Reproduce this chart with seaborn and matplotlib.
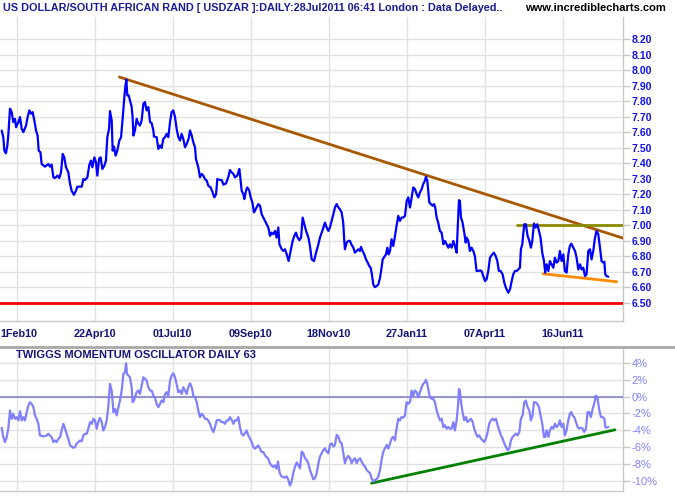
import matplotlib
matplotlib.use("Agg")
import matplotlib.pyplot as plt
from matplotlib.lines import Line2D
from matplotlib.transforms import offset_copy
import seaborn as sns
import pandas as pd

# ---------------- data (trading-day index) ----------------
price_day = [0.4, 1.4, 2.1, 3.1, 4.0, 4.6, 5.7, 6.8, 7.8, 8.9, 9.6, 11.1, 12.1, 13.2, 14.3, 16.0, 17.0, 18.1,
             19.2, 20.2, 21.3, 22.4, 23.4, 24.1, 25.2, 26.0, 28.1, 30.3, 31.3, 32.4, 33.5, 34.6, 36.1, 37.3,
             38.4, 39.5, 40.5, 41.6, 43.1, 44.2, 45.2, 46.7, 48.0, 48.9, 51.7, 52.7, 53.8, 55.3, 56.6, 57.6,
             58.5, 59.8, 60.8, 61.7, 62.8, 63.8, 64.9, 66.2, 67.2, 68.1, 69.2, 69.8, 70.9, 71.5, 72.4, 73.4,
             74.5, 75.8, 76.9, 78.0, 79.0, 79.6, 80.3, 80.9, 81.8, 82.6, 83.7, 84.3, 84.8, 85.8, 86.9, 88.0,
             89.0, 90.1, 91.2, 92.2, 93.3, 94.4, 95.5, 96.5, 97.6, 98.0, 99.7, 100.8, 101.9, 102.9, 104.0,
             105.1, 106.1, 107.2, 108.3, 109.3, 110.4, 111.5, 112.5, 113.6, 114.7, 115.7, 116.8, 117.9,
             119.0, 120.2, 121.1, 122.2, 123.2, 124.3, 124.9, 126.4, 127.5, 128.6, 129.6, 130.7, 131.8,
             132.8, 134.3, 135.6, 136.7, 137.8, 138.6, 140.3, 141.4, 142.5, 144.2, 145.7, 146.7, 147.8,
             148.9, 149.9, 151.4, 152.7, 153.1, 154.2, 155.3, 155.9, 157.0, 157.8, 159.1, 160.0, 161.1,
             162.1, 163.2, 164.9, 166.0, 167.0, 168.1, 169.2, 170.2, 171.3, 172.4, 173.4, 174.5, 175.6,
             176.6, 177.7, 178.4, 179.9, 180.9, 182.0, 183.1, 184.3, 185.6, 186.9, 188.0, 189.0, 190.1,
             191.2, 192.3, 193.3, 194.4, 195.5, 197.0, 198.0, 199.1, 200.6, 201.9, 203.4, 204.4, 205.9,
             207.6, 208.7, 209.8, 210.8, 211.9, 213.0, 214.0, 215.1, 216.2, 217.2, 218.3, 219.3, 220.0,
             220.4, 221.5, 222.6, 223.6, 224.7, 225.8, 226.8, 227.9, 229.0, 230.0, 230.7, 231.7, 232.8,
             233.9, 235.0, 236.0, 236.9, 237.7, 238.6, 239.6, 240.7, 241.8, 242.9, 243.9, 244.6, 245.6,
             246.7, 247.6, 248.4, 249.3, 250.3, 251.4, 252.5, 253.5, 254.6, 255.7, 256.7, 257.8, 258.9,
             260.0, 261.0, 262.1, 263.2, 264.2, 265.3, 266.4, 267.4, 268.5, 269.6, 270.6, 271.7, 272.3,
             273.2, 273.8, 274.5, 275.5, 276.6, 277.5, 278.3, 279.2, 280.2, 281.3, 282.4, 283.5, 284.5,
             285.6, 286.7, 287.7, 288.8, 289.9, 290.9, 292.0, 292.9, 293.5, 294.1, 294.8, 295.8, 296.9,
             297.8, 298.4, 299.5, 300.5, 301.6, 302.7, 303.7, 304.8, 305.9, 307.0, 308.0, 309.1, 310.2,
             311.2, 312.3, 313.4, 314.9, 315.9, 317.0, 318.1, 319.1, 320.2, 321.5, 322.6, 323.6, 325.1,
             326.2, 327.3, 328.3, 329.4, 330.5, 331.5, 332.6, 333.2, 334.1, 334.7, 335.4, 336.4, 337.5,
             338.6, 339.6, 340.5, 341.6, 342.6, 343.7, 344.8, 345.8, 346.9, 348.0, 348.8, 349.7, 350.8,
             351.8, 352.9, 354.0, 355.0, 356.1, 357.2, 358.2, 359.3, 360.4, 361.4, 362.5, 363.6, 364.6,
             365.5, 366.8, 367.9, 368.9, 370.0, 371.1, 372.1, 373.2, 374.3, 375.3, 376.4, 377.5, 378.5,
             379.6, 380.7, 381.7, 382.8, 383.9, 384.9, 386.0, 386.7, 387.3, 388.2, 389.2]
price_val = [7.61, 7.568, 7.481, 7.464, 7.514, 7.578, 7.751, 7.729, 7.665, 7.686, 7.632, 7.665, 7.697, 7.622,
             7.600, 7.643, 7.697, 7.740, 7.719, 7.729, 7.675, 7.611, 7.578, 7.481, 7.471, 7.395, 7.378, 7.395,
             7.378, 7.391, 7.309, 7.305, 7.320, 7.305, 7.341, 7.460, 7.438, 7.374, 7.341, 7.266, 7.223, 7.197,
             7.223, 7.249, 7.249, 7.298, 7.292, 7.309, 7.391, 7.417, 7.374, 7.438, 7.406, 7.320, 7.428, 7.438,
             7.363, 7.384, 7.417, 7.568, 7.622, 7.736, 7.675, 7.481, 7.507, 7.449, 7.481, 7.546, 7.568, 7.697,
             7.826, 7.891, 7.938, 7.837, 7.837, 7.805, 7.762, 7.697, 7.578, 7.611, 7.686, 7.654, 7.643, 7.675,
             7.783, 7.794, 7.740, 7.762, 7.665, 7.658, 7.611, 7.572, 7.568, 7.492, 7.514, 7.499, 7.557, 7.568,
             7.589, 7.568, 7.665, 7.729, 7.740, 7.697, 7.622, 7.568, 7.546, 7.589, 7.557, 7.503, 7.525, 7.557,
             7.611, 7.578, 7.535, 7.503, 7.428, 7.374, 7.309, 7.331, 7.320, 7.298, 7.288, 7.255, 7.244, 7.212,
             7.180, 7.201, 7.298, 7.292, 7.292, 7.262, 7.270, 7.313, 7.356, 7.341, 7.331, 7.309, 7.320, 7.363,
             7.331, 7.223, 7.201, 7.169, 7.223, 7.244, 7.223, 7.180, 7.147, 7.083, 7.104, 7.137, 7.126, 7.072,
             7.050, 7.029, 7.007, 6.986, 6.932, 6.953, 6.943, 6.964, 6.921, 6.986, 6.878, 6.846, 6.835, 6.846,
             6.813, 6.770, 6.835, 6.900, 6.932, 6.953, 6.921, 6.904, 6.921, 7.050, 7.007, 6.964, 6.921, 6.867,
             6.781, 6.770, 6.824, 6.878, 6.921, 6.964, 7.018, 6.986, 6.964, 6.986, 7.029, 7.072, 7.115, 7.137,
             7.115, 7.104, 7.083, 7.018, 6.900, 6.846, 6.889, 6.900, 6.900, 6.874, 6.856, 6.824, 6.835, 6.846,
             6.835, 6.861, 6.835, 6.813, 6.781, 6.760, 6.738, 6.727, 6.684, 6.619, 6.602, 6.609, 6.619, 6.662,
             6.727, 6.781, 6.796, 6.813, 6.856, 6.813, 6.835, 6.910, 6.867, 6.932, 6.997, 7.061, 7.029, 7.050,
             7.050, 7.061, 7.158, 7.180, 7.115, 7.180, 7.244, 7.234, 7.201, 7.180, 7.212, 7.234, 7.266, 7.288,
             7.313, 7.288, 7.223, 7.147, 7.137, 7.126, 7.137, 7.115, 7.050, 7.018, 6.964, 6.953, 6.878, 6.900,
             6.878, 6.856, 6.878, 6.856, 6.900, 6.867, 6.824, 7.018, 7.162, 7.158, 7.050, 7.018, 6.953, 6.889,
             6.921, 6.900, 6.835, 6.856, 6.835, 6.803, 6.706, 6.706, 6.710, 6.706, 6.673, 6.641, 6.652, 6.706,
             6.792, 6.813, 6.824, 6.803, 6.770, 6.706, 6.706, 6.684, 6.630, 6.598, 6.566, 6.587, 6.641, 6.684,
             6.706, 6.706, 6.716, 6.727, 6.846, 6.878, 6.943, 7.007, 7.007, 6.932, 6.900, 6.856, 6.900, 7.012,
             6.986, 7.007, 6.964, 6.921, 6.824, 6.770, 6.695, 6.749, 6.706, 6.770, 6.749, 6.727, 6.792, 6.760,
             6.770, 6.835, 6.770, 6.813, 6.706, 6.695, 6.813, 6.867, 6.882, 6.856, 6.835, 6.792, 6.716, 6.749,
             6.716, 6.727, 6.673, 6.684, 6.835, 6.846, 6.781, 6.835, 6.921, 6.964, 6.943, 6.856, 6.770, 6.760,
             6.766, 6.684, 6.673, 6.669]

osc_day = [0.4, 1.4, 2.5, 3.6, 4.6, 5.7, 6.8, 7.8, 8.9, 10.0, 11.1, 12.1, 13.2, 14.3, 15.3, 16.4, 17.5, 18.5,
           19.6, 20.7, 21.7, 22.8, 23.9, 24.9, 27.1, 29.2, 30.3, 31.3, 32.4, 33.5, 34.6, 35.6, 36.7, 37.8,
           38.8, 39.9, 41.0, 42.0, 43.1, 44.2, 45.2, 46.3, 47.4, 48.4, 49.5, 50.6, 51.7, 52.7, 53.8, 54.9,
           55.9, 57.0, 58.1, 59.1, 60.2, 61.3, 62.3, 63.4, 64.5, 65.5, 66.6, 67.7, 68.7, 69.8, 70.9, 72.0,
           73.0, 74.1, 75.2, 76.2, 77.3, 78.4, 79.4, 80.1, 80.7, 81.6, 82.6, 83.7, 84.3, 85.2, 85.8, 86.9,
           88.0, 89.0, 90.1, 91.2, 92.2, 93.3, 94.4, 95.5, 96.5, 97.6, 98.7, 99.7, 100.8, 101.9, 102.9,
           104.0, 105.1, 106.1, 107.2, 108.3, 109.3, 110.4, 111.5, 112.5, 113.6, 114.7, 115.8, 116.8,
           117.9, 119.0, 120.0, 121.1, 122.2, 123.2, 124.3, 125.4, 126.4, 127.5, 128.6, 129.6, 130.7,
           131.8, 132.8, 133.9, 135.0, 136.1, 137.1, 138.2, 139.3, 140.3, 141.4, 142.5, 143.5, 144.6,
           145.7, 146.7, 147.8, 148.9, 149.9, 151.0, 152.1, 153.1, 154.2, 155.3, 156.4, 157.4, 158.5,
           159.6, 160.6, 161.7, 162.8, 163.8, 164.9, 166.0, 167.0, 168.1, 169.2, 170.2, 171.3, 172.4,
           173.4, 174.5, 175.6, 176.6, 177.5, 178.6, 179.7, 181.9, 183.0, 184.1, 185.2, 186.3, 187.3,
           188.4, 189.5, 190.5, 191.6, 192.7,
           193.7, 194.8, 195.9, 196.9, 198.0, 199.1, 200.1, 201.2, 202.3, 203.4, 204.4, 205.5, 206.6,
           207.6, 208.7, 209.8, 210.8, 211.9, 213.0, 214.0, 215.1, 216.2, 217.2, 218.3, 219.4, 220.4,
           221.5, 222.6, 223.7, 224.7, 225.8, 226.9, 227.9, 229.0, 230.1, 231.1, 232.2, 233.3, 234.3,
           235.4, 236.5, 237.5, 238.6, 239.7, 240.7, 241.8, 242.9, 243.9, 245.0, 246.1, 247.2, 248.2,
           249.3, 250.3, 251.4, 252.5, 253.5, 254.6, 255.7, 256.7, 257.8, 258.9, 259.9, 261.0, 262.1,
           263.2, 264.2, 265.3, 266.4, 267.4, 268.5, 269.6, 270.6, 271.7, 272.3, 273.2, 274.0, 274.9,
           276.0, 277.0, 278.1, 279.2, 280.2, 281.3, 282.4, 283.5, 284.5, 285.6, 286.7, 287.7, 288.8,
           289.9, 290.9, 292.0, 292.9, 293.5, 294.1, 294.8, 295.8, 296.9, 298.0, 299.0, 300.1, 301.2,
           302.3, 303.3, 304.4, 305.5, 306.5, 307.6, 308.7, 309.7, 310.8, 311.9, 312.9, 314.0, 315.1,
           316.1, 317.2, 318.3, 319.3, 320.4, 321.5, 322.6, 323.6, 324.7, 325.8, 326.8, 327.9, 329.0,
           330.0, 331.1, 332.2, 333.2, 334.3, 335.4, 336.4, 337.5, 338.6, 339.6, 340.7, 341.6, 342.6,
           343.7, 344.8, 345.8, 346.9, 348.0, 348.8, 349.7, 350.8, 351.8, 352.9, 354.0, 355.0, 356.1,
           357.2, 358.2, 359.3, 360.4, 361.4, 362.5, 363.6, 364.6, 365.5, 366.4, 367.4, 368.5, 369.6,
           370.6, 371.7, 372.8, 373.8, 374.9, 376.0, 377.0, 378.1, 379.2, 380.2, 381.3, 382.4, 383.5,
           384.5, 385.6, 386.7, 387.3, 388.2, 389.2]
osc_val = [-3.70, -4.80, -5.39, -4.80, -3.82, -1.65, -2.64, -2.05, -2.64, -2.44, -2.83, -1.73, -2.83, -2.44,
           -2.83, -1.85, -1.06, -0.67, -0.87, -1.26, -2.24, -2.64, -3.23, -4.61, -4.72, -4.61, -4.41, -4.61,
           -4.80, -5.39, -5.20, -5.39, -5.00, -4.80, -4.02, -3.23, -3.82, -4.41, -5.00, -5.79, -5.91, -6.06,
           -5.98, -5.59, -5.39, -5.20, -5.31, -4.61, -4.41, -4.41, -3.82, -3.03, -3.23, -2.64, -2.83, -3.82,
           -3.03, -2.52, -3.03, -4.02, -3.62, -2.83, -1.26, 1.50, 0.71, -1.85, -1.46, -2.24, -1.26, -0.47,
           0.71, 2.68, 2.87, 3.94, 2.68, 2.48, 2.28, 1.10, -0.67, -0.47, -0.08, 0.51, 0.71, 0.31, 1.30, 2.28,
           2.09, 1.89, 1.10, 0.71, 0.71, 0.12, -0.16, -0.87, -1.26, -0.87, -0.47, -0.67, 0.31, 0.51, 0.12,
           1.89, 2.48, 2.76, 2.28, 1.50, 0.51, 0.71, 0.31, 1.10, 0.71, 0.31, 1.10, 1.57, 1.10, 0.12, -0.08,
           -0.67, -1.65, -2.44, -2.05, -2.24, -2.64, -2.64, -2.83, -3.23, -3.82, -4.21, -3.62, -2.83, -2.76,
           -2.83, -3.03, -3.03, -3.23, -2.83, -2.83, -2.44, -2.76, -3.23, -2.83, -2.83, -2.44, -3.62, -4.41,
           -4.61, -4.33, -4.02, -4.61, -5.00, -5.39, -5.98, -6.18, -5.98, -5.79, -6.18, -6.57, -6.57, -6.97,
           -7.17, -7.36, -7.95, -8.15, -8.35, -8.15, -8.54, -7.70, -9.06, -9.45, -9.60, -9.45, -9.84,
           -10.55, -10.00, -9.06, -8.30, -7.80, -8.10, -8.50, -6.52,
           -6.72, -7.31, -7.50, -7.90, -8.69, -9.28, -9.79, -9.67, -9.08, -7.90, -7.11, -6.72,
           -6.32, -6.13, -6.52, -6.72, -5.73, -5.54, -5.93, -5.73, -4.55, -4.75, -5.34, -5.54, -6.72, -7.90,
           -7.31, -7.03, -7.31, -7.90, -7.50, -7.31, -7.90, -7.50, -7.31, -7.70, -8.09, -8.29, -8.69, -8.88,
           -9.08, -9.67, -10.06, -9.87, -9.79, -9.48, -8.69, -7.50, -6.52, -6.13, -5.73, -6.16, -5.57, -4.98,
           -4.78, -5.18, -3.80, -2.63, -2.82, -2.43, -2.51, -2.24, -0.67, -0.86, -0.67, 0.71, 0.12, 0.71,
           0.51, -0.08, 0.51, 1.10, 1.49, 1.69, 1.96, 1.49, 0.71, -0.08, -0.27, -0.27, -0.67, -1.65, -2.24,
           -2.82, -2.63, -3.61, -3.41, -3.80, -3.61, -3.80, -3.80, -3.02, -4.00, -2.82, -1.06, 0.90, 0.71,
           -0.67, -1.84, -2.82, -2.43, -3.02, -2.82, -2.63, -3.02, -3.80, -4.39, -4.78, -4.59, -4.98, -5.18,
           -5.37, -4.98, -4.20, -3.22, -2.82, -2.63, -2.82, -2.63, -3.41, -4.00, -4.59, -4.98, -5.57, -5.96,
           -6.35, -6.16, -5.18, -4.78, -4.59, -4.39, -4.59, -4.20, -2.63, -2.24, -0.67, -0.47, -1.25, -1.65,
           -2.82, -2.24, -0.67, -0.67, -0.86, -1.25, -2.24, -3.22, -4.78, -4.78, -4.00, -4.78, -4.00, -3.61,
           -3.80, -3.22, -3.61, -3.41, -2.82, -3.61, -3.22, -4.59, -4.00, -2.82, -2.04, -1.84, -2.24, -2.43,
           -3.02, -3.61, -3.80, -3.69, -3.80, -4.20, -3.80, -1.84, -1.84, -2.43, -1.45, -0.86, 0.12, -0.27,
           -1.65, -2.43, -2.43, -2.63, -3.61, -3.69, -3.61]

# trend lines drawn on the chart (day, value)
resist_day = [75.8, 398.8]
resist_val = [7.955, 6.917]
top_day = [330.5, 398.8]
top_val = [7.00, 7.00]
support_day = [347.5, 394.6]
support_val = [6.688, 6.637]
floor_val = 6.50
osc_trend_day = [237.5, 393.5]
osc_trend_val = [-10.25, -3.94]

date_tick_days = [10, 60, 110, 160, 210, 260, 310, 360]
date_tick_labels = ["1Feb10", "22Apr10", "01Jul10", "09Sep10", "18Nov10", "27Jan11", "07Apr11", "16Jun11"]
price_ticks = [6.50, 6.60, 6.70, 6.80, 6.90, 7.00, 7.10, 7.20, 7.30, 7.40, 7.50, 7.60, 7.70, 7.80,
               7.90, 8.00, 8.10, 8.20]
osc_ticks = [-10, -8, -6, -4, -2, 0, 2, 4]

title = "US DOLLAR/SOUTH AFRICAN RAND [ USDZAR ]:DAILY:28Jul2011 06:41 London : Data Delayed.."
site = "www.incrediblecharts.com"
osc_title = "TWIGGS MOMENTUM OSCILLATOR DAILY 63"

# ---------------- plotting ----------------
sns.set_theme(style="white")
plt.rcParams['font.family'] = ['Liberation Sans', 'DejaVu Sans']

W, H = 675, 500
fig = plt.figure(figsize=(W / 100, H / 100), dpi=100)
fig.patch.set_facecolor("white")

right_px = 623.3
ax1 = fig.add_axes([0, 1 - 321 / H, right_px / W, (321 - 17) / H])
ax2 = fig.add_axes([0, 1 - 491 / H, right_px / W, (491 - 347) / H])

xmin, xmax = -0.705, 398.85
grid_c = "#e2e2e2"
spine_c = "#c8c8c8"
label_navy = "#14147a"

price_df = pd.DataFrame({"day": price_day, "price": price_val})
osc_df = pd.DataFrame({"day": osc_day, "osc": osc_val})

for ax in (ax1, ax2):
    ax.set_facecolor("white")
    ax.set_xlim(xmin, xmax)
    ax.set_xticks(date_tick_days)
    for s in ("left", "top"):
        ax.spines[s].set_visible(False)
    for s in ("right", "bottom"):
        ax.spines[s].set_color(spine_c)
        ax.spines[s].set_linewidth(1)
    ax.grid(True, color=grid_c, linewidth=1)
    ax.set_axisbelow(True)
    ax.yaxis.tick_right()
    ax.tick_params(axis="y", which="both", direction="out", length=5, width=1, color=spine_c, pad=1)
    ax.tick_params(axis="x", length=0)

# top panel
ax1.set_ylim(6.384, 8.3416)
ax1.set_yticks(price_ticks)
ax1.set_yticklabels([f"{v:.2f}" for v in price_ticks], fontsize=7.5, fontweight="bold", color="#1010e8")
# first date label sits at the left edge of the chart, the rest are centred on their gridlines
ax1.set_xticklabels([""] + date_tick_labels[1:], fontsize=7.8, fontweight="bold", color=label_navy)
ax1.tick_params(axis="x", pad=6)
ax1.text(0.0005, 0, date_tick_labels[0], transform=offset_copy(ax1.transAxes, fig=fig, y=-6, units="points"),
         fontsize=7.8, fontweight="bold", color=label_navy, ha="left", va="top")

ax1.axhline(floor_val, color="#ff0000", linewidth=2, zorder=3)
sns.lineplot(x=resist_day, y=resist_val, ax=ax1, color="#a85800", linewidth=2, zorder=3)
sns.lineplot(x=top_day, y=top_val, ax=ax1, color="#8a8a00", linewidth=2, zorder=3)
sns.lineplot(x=support_day, y=support_val, ax=ax1, color="#ff8c00", linewidth=2, zorder=3)
sns.lineplot(data=price_df, x="day", y="price", ax=ax1, color="#0000ff", linewidth=1.6,
             estimator=None, sort=False, zorder=4)
ax1.set_xlabel("")
ax1.set_ylabel("")

# bottom panel
ax2.set_ylim(-11.18, 5.86)
ax2.set_yticks(osc_ticks)
ax2.set_yticklabels([f"{v}%" for v in osc_ticks], fontsize=8, color="#8080ff")
ax2.set_xticklabels([])
ax2.axhline(0, color="#7a7ac4", linewidth=1.1, zorder=3)
sns.lineplot(x=osc_trend_day, y=osc_trend_val, ax=ax2, color="#008000", linewidth=2, zorder=3)
sns.lineplot(data=osc_df, x="day", y="osc", ax=ax2, color="#8080ff", linewidth=1.6,
             estimator=None, sort=False, zorder=4)
ax2.set_xlabel("")
ax2.set_ylabel("")
ax2.text(16 / right_px, 1 - 8 / 144, osc_title, transform=ax2.transAxes, fontsize=8,
         fontweight="bold", color=label_navy, va="center", ha="left")

# separator line between panels
fig.add_artist(Line2D([0, 1], [1 - 347 / H, 1 - 347 / H], transform=fig.transFigure,
                      color="#a8a8a8", linewidth=2))

fig.text(3 / W, 1 - 8 / H, title, fontsize=7.85, fontweight="bold", color="#1c1c96",
         va="center", ha="left")
fig.text(666 / W, 1 - 8 / H, site, fontsize=8, fontweight="bold", color="black",
         va="center", ha="right")

fig.savefig("out.png", dpi=100, facecolor="white")
